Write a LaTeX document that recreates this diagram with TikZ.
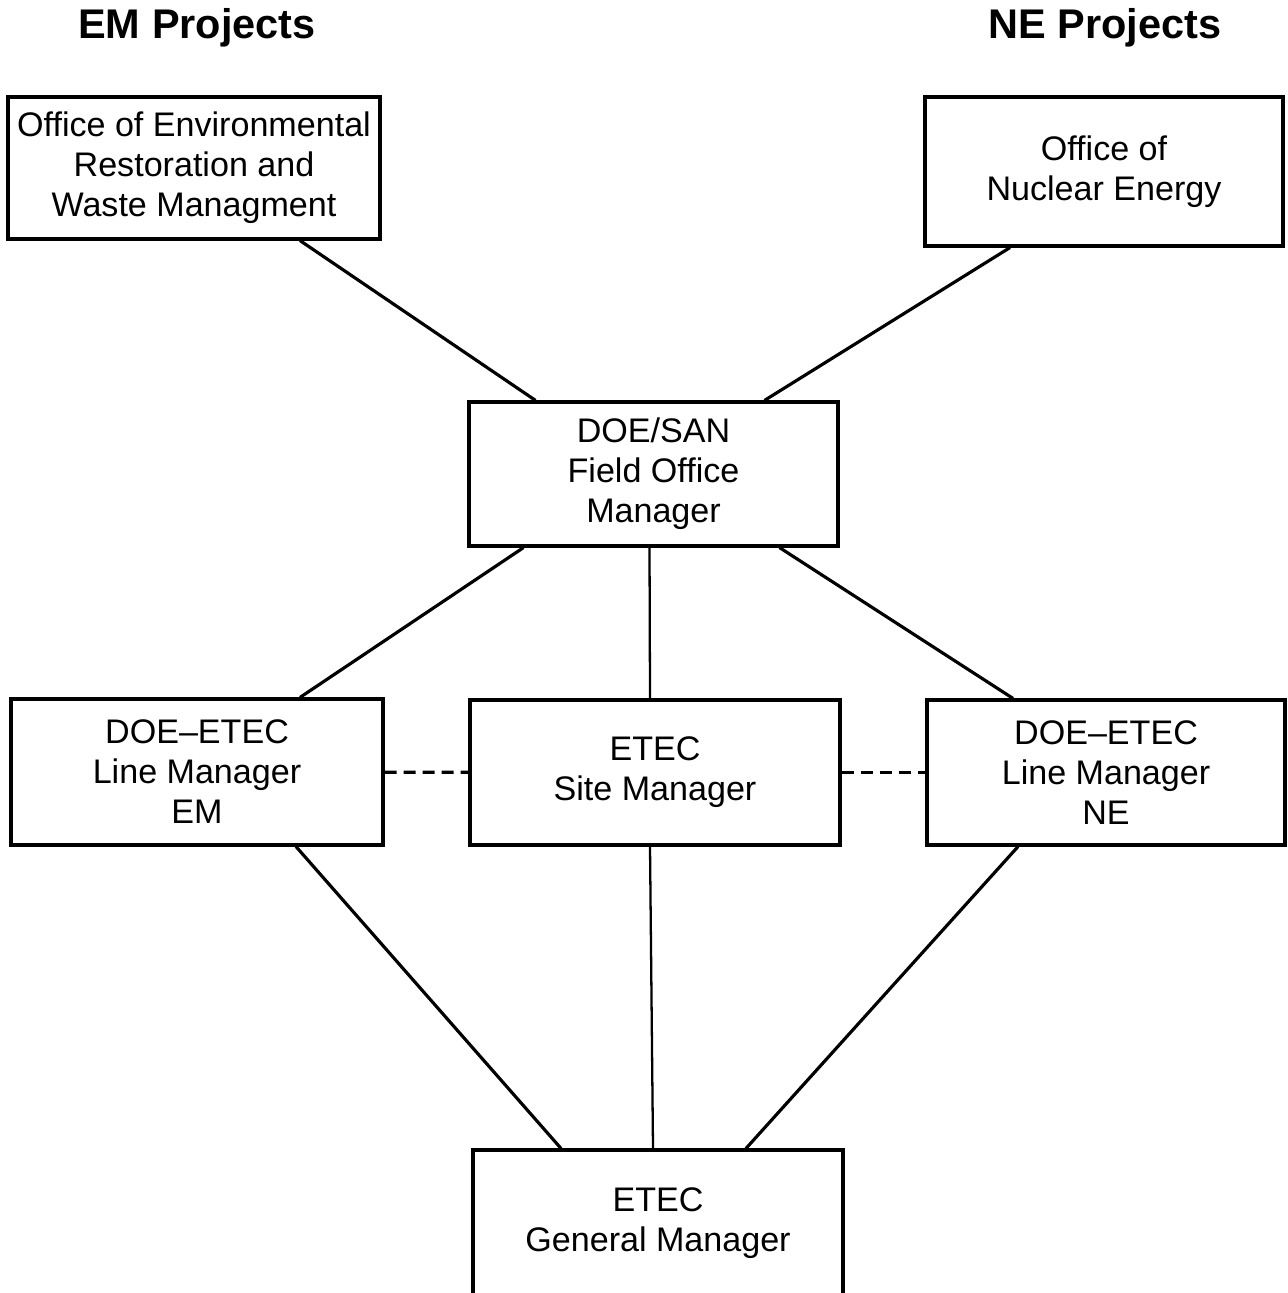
\documentclass[tikz,border=0pt]{standalone}
\usepackage{fontspec}
\setmainfont{Liberation Sans}
\usepackage{tikz}

\begin{document}
\begin{tikzpicture}[x=0.02cm, y=-0.02cm, line width=1.8pt]
\useasboundingbox (0,0) rectangle (1287,1293);
\clip (0,0) rectangle (1287,1293);
\tikzstyle{orgbox} = [draw, align=center, inner sep=0pt, font=\fontsize{19.4}{22.8}\selectfont]
\tikzstyle{heading} = [font=\fontsize{23.6}{28}\selectfont\bfseries]
% project titles
\node[heading] (emt) at (197, 28) {EM Projects};
\node[heading] (net) at (1105, 28) {NE Projects};
% offices
\node[orgbox, minimum width=7.44cm, minimum height=2.84cm] (oerwm) at (194, 168) {Office of Environmental\\Restoration and\\Waste Managment};
\node[orgbox, minimum width=7.16cm, minimum height=2.98cm] (one) at (1104, 171.5) {Office of\\Nuclear Energy};
\node[orgbox, minimum width=7.38cm, minimum height=2.88cm] (doesan) at (653.5, 474) {DOE/SAN\\Field Office\\Manager};
% line managers
\node[orgbox, minimum width=7.44cm, minimum height=2.92cm] (lmem) at (197, 772) {DOE--ETEC\\Line Manager\\EM};
\node[orgbox, minimum width=7.4cm, minimum height=2.9cm] (site) at (655, 772.5) {ETEC\\Site Manager};
\node[orgbox, minimum width=7.16cm, minimum height=2.9cm] (lmne) at (1106, 772.5) {DOE--ETEC\\Line Manager\\NE};
\node[orgbox, minimum width=7.4cm, minimum height=2.92cm] (gm) at (658, 1223) {ETEC\\General Manager};
% solid links
\foreach \from/\fs/\to/\ts in {oerwm/2.12/doesan/-2.36, one/-1.88/doesan/2.22,
  doesan/-2.6/lmem/2.06, doesan/2.52/lmne/-1.86,
  lmem/1.98/gm/-1.94, lmne/-1.76/gm/1.76}
\draw ([xshift=\fs cm]\from.south) -- ([xshift=\ts cm]\to.north);
\draw[line width=1.3pt] ([xshift=-0.08cm]doesan.south) -- ([xshift=-0.1cm]site.north);
\draw[line width=1.3pt] ([xshift=-0.1cm]site.south) -- ([xshift=-0.1cm]gm.north);
% dashed links
\draw[dash pattern=on 0.24cm off 0.14cm] (lmem) -- (site);
\draw[dash pattern=on 0.24cm off 0.14cm] (site) -- (lmne);
\end{tikzpicture}
\end{document}
